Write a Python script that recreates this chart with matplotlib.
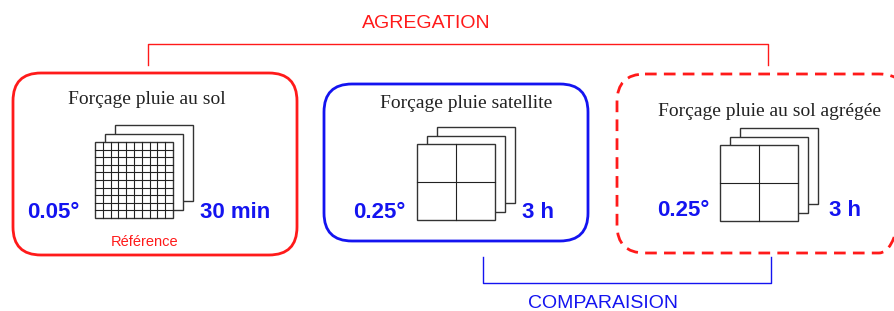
import matplotlib
matplotlib.use('Agg')
import matplotlib.pyplot as plt
from matplotlib.patches import FancyBboxPatch, Rectangle

# panel contents
titles = ['Forçage pluie au sol', 'Forçage pluie satellite', 'Forçage pluie au sol agrégée']
res_labels = ['0.05°', '0.25°', '0.25°']
time_labels = ['30 min', '3 h', '3 h']
grid_cells = [10, 2, 2]
note_label = 'Référence'
top_label = 'AGREGATION'
bottom_label = 'COMPARAISION'

RED = '#ff1a1a'
BLUE = '#1414f0'

# layout (pixel units, y pointing down)
boxes = [(13, 73, 284, 182), (324, 84, 264, 157), (617, 74, 290, 179)]
box_colors = [RED, BLUE, RED]
box_styles = ['-', '-', (0, (4.2, 2.6))]
title_pos = [(147, 100), (466, 103), (770, 111)]
sheet_pos = [(95, 142), (417, 144), (720, 145)]
sheet_w, sheet_h = 78, 76
layer_dx, layer_dy = 10, -8.5
res_pos = [(53, 212), (379, 212), (683, 211)]
time_pos = [(235, 212), (538, 212), (845, 211)]

fig = plt.figure(figsize=(8.95, 3.11), dpi=100)
ax = fig.add_axes([0, 0, 1, 1])
ax.set_xlim(0, 895)
ax.set_ylim(311, 0)
ax.axis('off')

for i in range(3):
    x, y, w, h = boxes[i]
    ax.add_patch(FancyBboxPatch((x, y), w, h, boxstyle='round,pad=0,rounding_size=28',
                                fill=False, edgecolor=box_colors[i], lw=2.0,
                                linestyle=box_styles[i]))
    ax.text(*title_pos[i], titles[i], family='Liberation Serif', fontsize=14,
            color='#222222', ha='center', va='center')

    # stack of gridded sheets, back to front
    sx, sy = sheet_pos[i]
    for k in (2, 1, 0):
        ax.add_patch(Rectangle((sx + k * layer_dx, sy + k * layer_dy), sheet_w, sheet_h,
                               facecolor='white', edgecolor='#333333', lw=1.0, zorder=3))
    n = grid_cells[i]
    for j in range(1, n):
        gx = sx + sheet_w * j / n
        gy = sy + sheet_h * j / n
        ax.plot([gx, gx], [sy, sy + sheet_h], color='#222222', lw=0.8, zorder=4)
        ax.plot([sx, sx + sheet_w], [gy, gy], color='#222222', lw=0.8, zorder=4)

    ax.text(*res_pos[i], res_labels[i], family='Liberation Sans', fontweight='bold',
            fontsize=16, color=BLUE, ha='center', va='center')
    ax.text(*time_pos[i], time_labels[i], family='Liberation Sans', fontweight='bold',
            fontsize=16, color=BLUE, ha='center', va='center')

ax.text(145, 242, note_label, family='Liberation Sans', fontsize=10.5, color=RED,
        ha='center', va='center')

# aggregation bracket
ax.plot([148, 148, 768, 768], [65, 44, 44, 65], color=RED, lw=1.0)
ax.text(426, 23, top_label, family='Liberation Sans', fontsize=14, color=RED,
        ha='center', va='center')

# comparison bracket
ax.plot([483, 483, 771, 771], [257, 283, 283, 257], color=BLUE, lw=1.0)
ax.text(603, 304, bottom_label, family='Liberation Sans', fontsize=14, color=BLUE,
        ha='center', va='center')

fig.savefig('out.png', dpi=100)
